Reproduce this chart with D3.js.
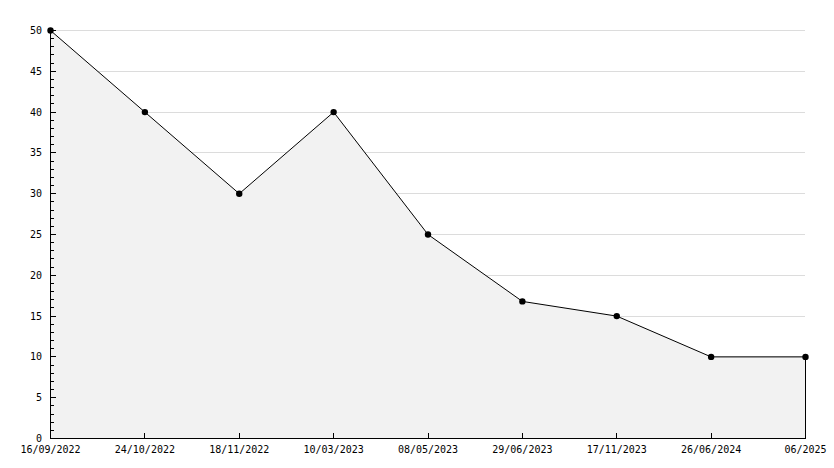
<!DOCTYPE html>
<html><head><meta charset="utf-8">
<script src="https://cdn.jsdelivr.net/npm/d3@7"></script>
<style>
html,body{margin:0;padding:0;background:#fff;}
text{font-family:"DejaVu Sans Mono",monospace;font-size:10px;fill:#000;}
</style></head>
<body>
<svg id="chart" width="834" height="468"></svg>
<script>
const categories = ["16/09/2022","24/10/2022","18/11/2022","10/03/2023","08/05/2023","29/06/2023","17/11/2023","26/06/2024","06/2025"];
const values = [50, 40, 30, 40, 25, 16.8, 15, 10, 10];
const yTicks = [0,5,10,15,20,25,30,35,40,45,50];

const svg = d3.select("#chart");
const m = {left:50, right:805, top:30, bottom:438};
const x = d3.scalePoint().domain(categories).range([m.left, m.right]);
const y = d3.scaleLinear().domain([0,50]).range([m.bottom, m.top]);

// gridlines
svg.append("g").selectAll("line").data(yTicks.filter(d=>d>0)).join("line")
  .attr("x1", m.left).attr("x2", m.right)
  .attr("y1", d=>y(d)+0.5).attr("y2", d=>y(d)+0.5)
  .attr("stroke", "#dcdcdc").attr("shape-rendering","crispEdges");

const data = categories.map((c,i)=>({c, v:values[i]}));

// area
const area = d3.area().x(d=>x(d.c)+0.5).y0(y(0)+0.5).y1(d=>y(d.v)+0.5);
svg.append("path").datum(data).attr("d", area).attr("fill", "#f2f2f2").attr("stroke","none");

// right edge of area
svg.append("line").attr("x1", x(categories[categories.length-1])+0.5).attr("x2", x(categories[categories.length-1])+0.5)
  .attr("y1", y(values[values.length-1])).attr("y2", y(0)).attr("stroke","#000").attr("shape-rendering","crispEdges");

// line
const line = d3.line().x(d=>x(d.c)+0.5).y(d=>y(d.v)+0.5);
svg.append("path").datum(data).attr("d", line).attr("fill","none").attr("stroke","#000").attr("stroke-width",1);

// markers
svg.append("g").selectAll("circle").data(data).join("circle")
  .attr("cx", d=>x(d.c)+0.5).attr("cy", d=>y(d.v)+0.5).attr("r", 3.2).attr("fill","#000");

// y axis
const yAxis = d3.axisRight(y).tickValues(d3.range(0,51,1)).tickSize(3).tickFormat("");
const gy = svg.append("g").attr("transform", `translate(${m.left+0.5},0)`).call(yAxis);
gy.select(".domain").remove();
gy.selectAll(".tick line").attr("shape-rendering","crispEdges")
  .attr("x2", d=> d%5===0 ? 5 : 3);
svg.append("line").attr("x1", m.left+0.5).attr("x2", m.left+0.5).attr("y1", m.top).attr("y2", m.bottom+1)
  .attr("stroke","#000").attr("shape-rendering","crispEdges");
svg.append("g").selectAll("text").data(yTicks).join("text")
  .attr("x", m.left-8).attr("y", d=>y(d)+4).attr("text-anchor","end").text(d=>d);

// x axis
svg.append("line").attr("x1", m.left).attr("x2", m.right+1).attr("y1", m.bottom+0.5).attr("y2", m.bottom+0.5)
  .attr("stroke","#000").attr("shape-rendering","crispEdges");
svg.append("g").selectAll("line").data(categories.slice(1,-1)).join("line")
  .attr("x1", d=>Math.round(x(d))+0.5).attr("x2", d=>Math.round(x(d))+0.5)
  .attr("y1", m.bottom).attr("y2", m.bottom-5).attr("stroke","#000").attr("shape-rendering","crispEdges");
svg.append("g").selectAll("text").data(categories).join("text")
  .attr("x", d=>x(d)+0.5).attr("y", m.bottom+15).attr("text-anchor","middle").text(d=>d);
</script>
</body></html>
